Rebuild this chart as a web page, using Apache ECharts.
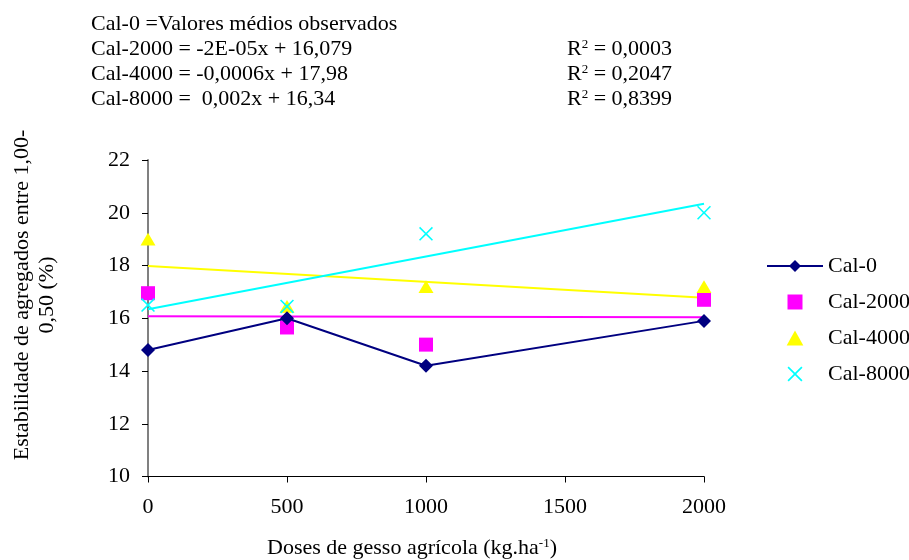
<!DOCTYPE html>
<html>
<head>
<meta charset="utf-8">
<script src="https://cdn.jsdelivr.net/npm/echarts@6/dist/echarts.min.js"></script>
<style>
  html, body { margin: 0; padding: 0; background: #fff; }
  #chart { width: 909px; height: 560px; }
</style>
</head>
<body>
<div id="chart"></div>
<script>
// Doses of agricultural gypsum (kg/ha)
const doses = [0, 500, 1000, 2000];

// Aggregate stability (1.00-0.50 mm class, %) per lime dose
const cal0    = [14.8, 16.0, 14.2, 15.9];
const cal2000 = [16.95, 15.65, 15.0, 16.7];
const cal4000 = [19.0, 16.45, 17.2, 17.2];
const cal8000 = [16.5, 16.45, 19.2, 20.0];

// Fitted linear trends, evaluated at the ends of the dose range
const trendX    = [0, 2000];
const trend2000 = [16.08, 16.04];
const trend4000 = [17.98, 16.78];
const trend8000 = [16.34, 20.34];

const yTicks = { min: 10, max: 22, step: 2 };
const xTicks = { min: 0, max: 2000, step: 500 };

const seriesNames = ['Cal-0', 'Cal-2000', 'Cal-4000', 'Cal-8000'];
const equationLines = [
  'Cal-0 =Valores médios observados',
  'Cal-2000 = -2E-05x + 16,079',
  'Cal-4000 = -0,0006x + 17,98',
  'Cal-8000 =  0,002x + 16,34'
];
const r2Values = ['0,0003', '0,2047', '0,8399'];

const FONT = '"Liberation Serif", "Times New Roman", serif';
const NAVY = '#000080', MAGENTA = '#FF00FF', YELLOW = '#FFFF00', CYAN = '#00FFFF';

const SQUARE = 'path://M0,0H10V10H0Z';
const TRIANGLE = 'path://M5,0L10,9H0Z';
const CROSS = 'path://M0,1.6L1.6,0L10,8.4L18.4,0L20,1.6L11.6,10L20,18.4L18.4,20L10,11.6L1.6,20L0,18.4L8.4,10Z';

const pairs = (xs, ys) => xs.map((x, i) => [x, ys[i]]);

const chart = echarts.init(document.getElementById('chart'), null, { renderer: 'canvas' });

const graphics = [];
equationLines.forEach((t, i) => {
  graphics.push({
    type: 'text', x: 91, y: 24 + i * 25,
    style: { text: t, font: '22px ' + FONT, fill: '#000', align: 'left', verticalAlign: 'middle' }
  });
});
r2Values.forEach((v, i) => {
  graphics.push({
    type: 'text', x: 567, y: 49 + i * 25,
    style: {
      text: '{n|R}{s|2}{n| = ' + v + '}',
      align: 'left', verticalAlign: 'middle',
      rich: {
        n: { font: '22px ' + FONT, fill: '#000' },
        s: { font: '13px ' + FONT, fill: '#000', verticalAlign: 'top', padding: [0, 0, 8, 0] }
      }
    }
  });
});
// y axis title, two rotated lines
graphics.push({
  type: 'text', x: 35, y: 295, rotation: Math.PI / 2,
  style: {
    text: 'Estabilidade de agregados entre 1,00-\n0,50 (%)',
    font: '22px ' + FONT, fill: '#000', align: 'center', verticalAlign: 'middle', lineHeight: 25
  }
});
// x axis title with superscript unit
graphics.push({
  type: 'text', x: 412, y: 548,
  style: {
    text: '{n|Doses de gesso agrícola (kg.ha}{s|-1}{n|)}',
    align: 'center', verticalAlign: 'middle',
    rich: {
      n: { font: '22px ' + FONT, fill: '#000' },
      s: { font: '13px ' + FONT, fill: '#000', verticalAlign: 'top', padding: [0, 0, 8, 0] }
    }
  }
});

const option = {
  backgroundColor: '#fff',
  animation: false,
  textStyle: { fontFamily: FONT },
  grid: { left: 148, top: 160, width: 556, height: 316.5, containLabel: false },
  legend: {
    data: seriesNames,
    orient: 'vertical',
    left: 761, top: 250,
    itemWidth: 56, itemHeight: 15, itemGap: 14,
    textStyle: { fontFamily: FONT, fontSize: 22, color: '#000' }
  },
  xAxis: {
    type: 'value', min: xTicks.min, max: xTicks.max, interval: xTicks.step,
    axisLine: { onZero: false, lineStyle: { color: '#000', width: 1 } },
    axisTick: { show: true, inside: false, length: 6, lineStyle: { color: '#000' } },
    axisLabel: { fontFamily: FONT, fontSize: 22, color: '#000', margin: 20,
      formatter: v => String(v) },
    splitLine: { show: false }
  },
  yAxis: {
    type: 'value', min: yTicks.min, max: yTicks.max, interval: yTicks.step,
    axisLine: { show: true, lineStyle: { color: '#808080', width: 2 } },
    axisTick: { show: true, inside: false, length: 6, lineStyle: { color: '#000' } },
    axisLabel: { fontFamily: FONT, fontSize: 22, color: '#000', margin: 18 },
    splitLine: { show: false }
  },
  graphic: graphics,
  series: [
    { name: 'trend-2000', type: 'line', data: pairs(trendX, trend2000), showSymbol: false,
      lineStyle: { color: MAGENTA, width: 2 }, silent: true, z: 2 },
    { name: 'trend-4000', type: 'line', data: pairs(trendX, trend4000), showSymbol: false,
      lineStyle: { color: YELLOW, width: 2 }, silent: true, z: 2 },
    { name: 'trend-8000', type: 'line', data: pairs(trendX, trend8000), showSymbol: false,
      lineStyle: { color: CYAN, width: 2 }, silent: true, z: 2 },
    { name: 'Cal-2000', type: 'scatter', data: pairs(doses, cal2000), symbol: SQUARE, symbolSize: 14,
      symbolKeepAspect: true, itemStyle: { color: MAGENTA, opacity: 1 }, z: 3 },
    { name: 'Cal-4000', type: 'scatter', data: pairs(doses, cal4000), symbol: TRIANGLE, symbolSize: [15, 14],
      symbolKeepAspect: true, itemStyle: { color: YELLOW, opacity: 1 }, z: 3 },
    { name: 'Cal-8000', type: 'scatter', data: pairs(doses, cal8000), symbol: CROSS, symbolSize: 14,
      symbolKeepAspect: true, itemStyle: { color: CYAN, opacity: 1 }, z: 3 },
    { name: 'Cal-0', type: 'line', data: pairs(doses, cal0), symbol: 'diamond', symbolSize: 14,
      lineStyle: { color: NAVY, width: 2 }, itemStyle: { color: NAVY }, z: 4 }
  ]
};

chart.setOption(option);
</script>
</body>
</html>
